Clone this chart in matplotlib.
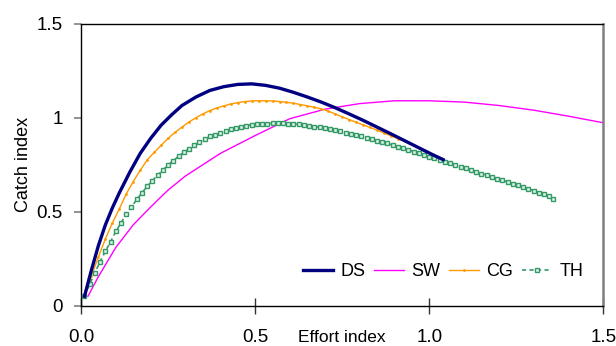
import matplotlib
matplotlib.use("Agg")
import matplotlib.pyplot as plt
from matplotlib.ticker import FixedLocator, FixedFormatter

plt.rcParams['font.family'] = ['Liberation Sans', 'DejaVu Sans']

# ----------------------------------------------------------------------
# data
# ----------------------------------------------------------------------
ds_x = [0.01, 0.03, 0.05, 0.07, 0.09, 0.11, 0.14, 0.17, 0.20, 0.23, 0.26,
        0.29, 0.33, 0.37, 0.41, 0.45, 0.49, 0.53, 0.57, 0.61, 0.65, 0.69,
        0.73, 0.77, 0.81, 0.85, 0.89, 0.93, 0.97, 1.01, 1.04]
ds_y = [0.05, 0.19, 0.32, 0.43, 0.52, 0.60, 0.71, 0.81, 0.89, 0.96, 1.015,
        1.065, 1.11, 1.145, 1.165, 1.177, 1.18, 1.172, 1.157, 1.135, 1.11, 1.083,
        1.053, 1.02, 0.986, 0.95, 0.914, 0.877, 0.84, 0.803, 0.777]

sw_x = [0.02, 0.05, 0.1, 0.15, 0.2, 0.25, 0.3, 0.4, 0.5, 0.6, 0.7, 0.8, 0.9,
        1.0, 1.1, 1.2, 1.3, 1.4, 1.5]
sw_y = [0.05, 0.155, 0.31, 0.43, 0.525, 0.615, 0.69, 0.81, 0.905, 0.995, 1.045,
        1.075, 1.09, 1.09, 1.083, 1.065, 1.04, 1.008, 0.973]

cg_x = [0.01, 0.03, 0.05, 0.07, 0.09, 0.11, 0.13, 0.15, 0.17, 0.19, 0.21,
        0.23, 0.25, 0.27, 0.29, 0.31, 0.33, 0.35, 0.37, 0.39, 0.41, 0.43,
        0.45, 0.47, 0.49, 0.51, 0.53, 0.55, 0.57, 0.59, 0.61, 0.63, 0.65,
        0.67, 0.69, 0.71, 0.73, 0.75, 0.77, 0.79, 0.81, 0.83, 0.85, 0.87,
        0.89, 0.91, 0.93]
cg_y = [0.045, 0.16, 0.26, 0.355, 0.44, 0.515, 0.595, 0.66, 0.72, 0.775, 0.815,
        0.853, 0.89, 0.922, 0.95, 0.977, 1.0, 1.02, 1.038, 1.052, 1.063, 1.073,
        1.08, 1.086, 1.089, 1.09, 1.09, 1.089, 1.086, 1.082, 1.077, 1.07, 1.063,
        1.055, 1.047, 1.035, 1.02, 1.005, 0.99, 0.976, 0.962, 0.948, 0.934, 0.919,
        0.904, 0.889, 0.874]

th_x = [0.01, 0.025, 0.04, 0.055, 0.07, 0.085, 0.10, 0.115, 0.13, 0.145,
        0.16, 0.175, 0.19, 0.205, 0.22, 0.235, 0.25, 0.265, 0.28, 0.295,
        0.31, 0.325, 0.34, 0.355, 0.37, 0.385, 0.40, 0.415, 0.43, 0.445,
        0.46, 0.475, 0.49, 0.505, 0.52, 0.535, 0.55, 0.565, 0.58, 0.595,
        0.61, 0.625, 0.64, 0.655, 0.67, 0.685, 0.70, 0.715, 0.73, 0.745,
        0.76, 0.775, 0.79, 0.805, 0.82, 0.835, 0.85, 0.865, 0.88, 0.895,
        0.91, 0.925, 0.94, 0.955, 0.97, 0.985, 1.00, 1.015, 1.03, 1.045,
        1.06, 1.075, 1.09, 1.105, 1.12, 1.135, 1.15, 1.165, 1.18, 1.195,
        1.21, 1.225, 1.24, 1.255, 1.27, 1.285, 1.30, 1.315, 1.33, 1.345,
        1.355]
th_y = [0.05, 0.115, 0.175, 0.235, 0.29, 0.34, 0.395, 0.44, 0.49, 0.525,
        0.565, 0.60, 0.635, 0.665, 0.695, 0.72, 0.75, 0.77, 0.795, 0.815,
        0.835, 0.855, 0.87, 0.885, 0.90, 0.91, 0.92, 0.93, 0.94, 0.945,
        0.953, 0.958, 0.962, 0.965, 0.967, 0.969, 0.97, 0.97, 0.97, 0.969,
        0.967, 0.964, 0.961, 0.957, 0.953, 0.949, 0.944, 0.939, 0.933, 0.927,
        0.921, 0.915, 0.908, 0.901, 0.894, 0.886, 0.878, 0.871, 0.863, 0.854,
        0.846, 0.838, 0.829, 0.82, 0.811, 0.802, 0.793, 0.785, 0.776, 0.767,
        0.758, 0.749, 0.739, 0.73, 0.721, 0.712, 0.703, 0.694, 0.685, 0.676,
        0.667, 0.658, 0.649, 0.64, 0.631, 0.622, 0.612, 0.602, 0.592, 0.581,
        0.57]

x_ticks = [0.0, 0.5, 1.0, 1.5]
x_labels = ["0.0", "0.5", "1.0", "1.5"]
y_ticks = [0.0, 0.5, 1.0, 1.5]
y_labels = ["0", "0.5", "1", "1.5"]

# ----------------------------------------------------------------------
fig = plt.figure(figsize=(6.16, 3.46), dpi=100)
ax = fig.add_axes([0.1315, 0.1165, 0.848, 0.8150])

ax.plot(ds_x, ds_y, color="#000080", lw=2.4, label="DS", zorder=4)
ax.plot(sw_x, sw_y, color="#ff00ff", lw=1.0, label="SW", zorder=2)
ax.plot(cg_x, cg_y, color="#ff9900", lw=1.0, marker="o", ms=2.0, mew=0,
        label="CG", zorder=3)
ax.plot(th_x, th_y, color="#339966", lw=1.2, ls=(0, (2.5, 2)), marker="s",
        ms=3.5, mfc="#dff0e6", mec="#339966", mew=1.0, label="TH", zorder=3)

ax.set_xlim(0, 1.5)
ax.set_ylim(0, 1.5)
ax.xaxis.set_major_locator(FixedLocator(x_ticks))
ax.xaxis.set_major_formatter(FixedFormatter(x_labels))
ax.yaxis.set_major_locator(FixedLocator(y_ticks))
ax.yaxis.set_major_formatter(FixedFormatter(y_labels))

ax.tick_params(axis="x", direction="inout", length=12, width=1, color="#333333",
               pad=11, labelsize=13.5)
ax.tick_params(axis="y", direction="out", length=5, width=1.2, color="#808080",
               pad=8, labelsize=13.5)

for side in ("left", "bottom", "top"):
    ax.spines[side].set_color("black")
    ax.spines[side].set_linewidth(1.0)
ax.spines["right"].set_color("#808080")
ax.spines["right"].set_linewidth(1.8)

ax.set_xlabel("Effort index", fontsize=12.5)
ax.xaxis.set_label_coords(0.5, -0.086)
ax.set_ylabel("Catch index", fontsize=13)
ax.yaxis.set_label_coords(-0.094, 0.5)

ax.legend(loc="center", bbox_to_anchor=(0.693, 0.12), ncol=4, frameon=False,
          fontsize=13, handlelength=1.7, handletextpad=0.4,
          columnspacing=0.45, borderpad=0)

fig.savefig("out.png", dpi=100)
